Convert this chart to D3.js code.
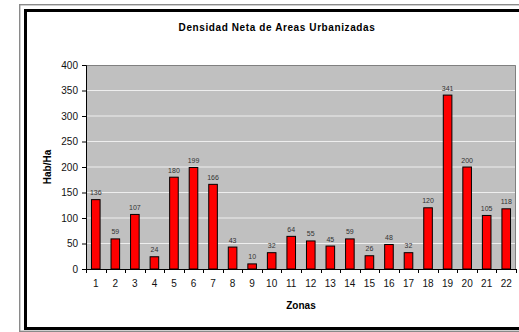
<!DOCTYPE html>
<html>
<head>
<meta charset="utf-8">
<script src="https://cdn.jsdelivr.net/npm/d3@7/dist/d3.min.js"></script>
<style>
  html, body { margin: 0; padding: 0; background: #fff; }
  svg { display: block; font-family: "Liberation Sans", Arial, sans-serif; }
</style>
</head>
<body>
<svg id="chart" width="519" height="332"></svg>
<script>
// Zonas and net density (Hab/Ha) per zone
const zonas = ["1","2","3","4","5","6","7","8","9","10","11","12","13","14","15","16","17","18","19","20","21","22"];
const densidad = [136, 59, 107, 24, 180, 199, 166, 43, 10, 32, 64, 55, 45, 59, 26, 48, 32, 120, 341, 200, 105, 118];
const yTicks = [0, 50, 100, 150, 200, 250, 300, 350, 400];

const svg = d3.select("#chart");

// Frame: thin gray outer line and thick black inner border
svg.append("rect")
  .attr("x", 19.7).attr("y", 4.7).attr("width", 560).attr("height", 326.6)
  .attr("fill", "none").attr("stroke", "#8a8a8a").attr("stroke-width", 1.4);
svg.append("rect")
  .attr("x", 25.5).attr("y", 10.5).attr("width", 560).attr("height", 318)
  .attr("fill", "none").attr("stroke", "#000").attr("stroke-width", 3);

const plot = { left: 86, right: 516, top: 65, bottom: 269 };

const xCat = d3.scaleBand().domain(zonas).range([plot.left, plot.right]).padding(0);
const xBar = d3.scaleBand().domain(zonas).range([plot.left, plot.right])
  .paddingInner(0.56).paddingOuter(0.28);
const y = d3.scaleLinear().domain([0, 400]).range([plot.bottom, plot.top]);

// Plot background
svg.append("rect")
  .attr("x", plot.left).attr("y", plot.top)
  .attr("width", plot.right - plot.left).attr("height", plot.bottom - plot.top)
  .attr("fill", "#c0c0c0");

// Gridlines
svg.append("g").selectAll("line")
  .data(yTicks.filter(d => d > 0 && d < 400))
  .join("line")
  .attr("x1", plot.left).attr("x2", plot.right)
  .attr("y1", d => y(d)).attr("y2", d => y(d))
  .attr("stroke", "#eeeeee").attr("stroke-width", 1);

// Plot border (top/right)
svg.append("path")
  .attr("d", `M${plot.left},${plot.top + 0.5}H${plot.right - 0.5}V${plot.bottom}`)
  .attr("fill", "none").attr("stroke", "#808080").attr("stroke-width", 1);

// Bars
svg.append("g").selectAll("rect")
  .data(densidad)
  .join("rect")
  .attr("x", (d, i) => xBar(zonas[i]))
  .attr("y", d => y(d))
  .attr("width", xBar.bandwidth())
  .attr("height", d => y(0) - y(d))
  .attr("fill", "#ff0000")
  .attr("stroke", "#000")
  .attr("stroke-width", 1);

// Value labels
svg.append("g").selectAll("text")
  .data(densidad)
  .join("text")
  .attr("x", (d, i) => xCat(zonas[i]) + xCat.bandwidth() / 2)
  .attr("y", d => y(d) - 4.5)
  .attr("text-anchor", "middle")
  .attr("font-size", 7)
  .attr("fill", "#333")
  .text(d => d);

// Y axis
const yAxis = svg.append("g")
  .attr("transform", `translate(${plot.left},0)`)
  .call(d3.axisLeft(y).tickValues(yTicks).tickSize(4).tickPadding(4));
yAxis.selectAll("text").attr("font-size", 10).attr("fill", "#111")
  .style("font-family", "'Liberation Sans', Arial, sans-serif");
yAxis.selectAll("line, path").attr("stroke", "#000");

// X axis: labels centred in each zone, ticks on zone boundaries
const xAxis = svg.append("g")
  .attr("transform", `translate(0,${plot.bottom})`)
  .call(d3.axisBottom(xCat).tickSize(0).tickPadding(11));
xAxis.select("path").remove();
xAxis.selectAll("text").attr("font-size", 10).attr("fill", "#111")
  .style("font-family", "'Liberation Sans', Arial, sans-serif");

const bounds = zonas.map(z => xCat(z)).concat([xCat(zonas[zonas.length - 1]) + xCat.bandwidth()]);
svg.append("line")
  .attr("x1", plot.left).attr("x2", plot.right)
  .attr("y1", plot.bottom + 0.5).attr("y2", plot.bottom + 0.5)
  .attr("stroke", "#000");
svg.append("g").selectAll("line")
  .data(bounds)
  .join("line")
  .attr("x1", d => Math.round(d) + 0.5).attr("x2", d => Math.round(d) + 0.5)
  .attr("y1", plot.bottom).attr("y2", plot.bottom + 4)
  .attr("stroke", "#000");

// Titles
svg.append("text")
  .attr("x", 277).attr("y", 31)
  .attr("text-anchor", "middle")
  .attr("font-size", 10).attr("font-weight", "bold")
  .attr("letter-spacing", 0.6)
  .text("Densidad Neta de Areas Urbanizadas");

svg.append("text")
  .attr("x", (plot.left + plot.right) / 2).attr("y", 309)
  .attr("text-anchor", "middle")
  .attr("font-size", 10).attr("font-weight", "bold")
  .text("Zonas");

svg.append("text")
  .attr("transform", `translate(51,167) rotate(-90)`)
  .attr("text-anchor", "middle")
  .attr("font-size", 10).attr("font-weight", "bold")
  .text("Hab/Ha");
</script>
</body>
</html>
